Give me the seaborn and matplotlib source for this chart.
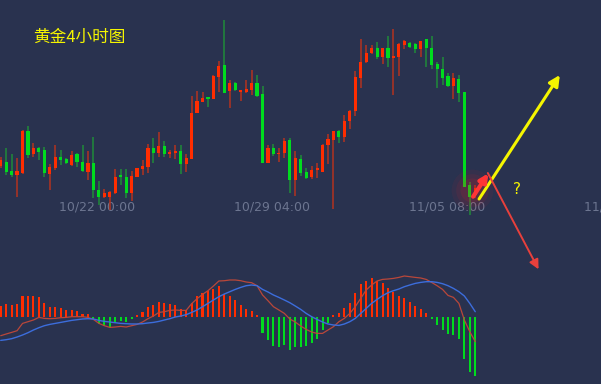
import numpy as np
import pandas as pd
import matplotlib
matplotlib.use("Agg")
import matplotlib.pyplot as plt
import seaborn as sns

# --- DATA (4h gold candles, relative price points) ---
opens = [134, 138, 129, 125, 127, 169, 146, 152, 150, 126,
         132, 143, 141, 135, 146, 138, 128, 137, 110, 103,
         103, 107, 125, 123, 107, 123, 131, 133, 152, 147,
         154, 146, 147, 149, 136, 141, 187, 198, 203, 201,
         223, 235, 209, 217, 208, 208, 210, 217, 206, 137,
         152, 146, 147, 160, 120, 141, 128, 123, 130, 128,
         155, 160, 169, 163, 179, 189, 222, 238, 247, 252,
         243, 252, 242, 243, 255, 257, 256, 251, 261, 252,
         236, 231, 224, 214, 221, 208, 115, 105]
highs = [143, 152, 146, 142, 170, 174, 157, 153, 153, 136,
         155, 150, 142, 149, 147, 155, 149, 163, 119, 111,
         109, 131, 131, 131, 129, 132, 140, 156, 162, 168,
         159, 150, 155, 155, 146, 204, 209, 208, 203, 225,
         239, 280, 220, 218, 210, 220, 230, 225, 214, 155,
         156, 152, 162, 162, 149, 145, 132, 134, 137, 156,
         166, 169, 170, 185, 190, 229, 261, 255, 255, 258,
         252, 264, 271, 257, 260, 258, 257, 259, 261, 264,
         238, 243, 227, 227, 225, 208, 118, 115]
lows = [132, 125, 123, 103, 126, 142, 143, 140, 123, 110,
        130, 135, 136, 134, 133, 128, 120, 102, 95, 102,
        90, 106, 115, 102, 99, 123, 125, 127, 137, 143,
        143, 142, 141, 126, 128, 141, 187, 198, 193, 201,
        208, 207, 192, 209, 199, 207, 205, 203, 137, 137,
        144, 138, 142, 107, 104, 124, 121, 121, 122, 128,
        136, 91, 157, 158, 171, 184, 212, 237, 246, 241,
        236, 233, 205, 224, 251, 252, 247, 243, 233, 231,
        212, 215, 213, 201, 198, 113, 85, 102]
closes = [140, 128, 125, 129, 169, 145, 152, 148, 127, 133,
          143, 140, 137, 145, 138, 129, 137, 110, 103, 107,
          108, 123, 123, 107, 124, 132, 134, 152, 147, 154,
          146, 148, 149, 136, 142, 187, 199, 202, 201, 224,
          234, 207, 217, 210, 210, 211, 217, 204, 137, 152,
          146, 147, 159, 120, 142, 127, 122, 130, 132, 155,
          161, 169, 163, 179, 189, 223, 238, 247, 252, 243,
          252, 242, 244, 256, 259, 253, 251, 259, 252, 235,
          231, 222, 214, 222, 207, 113, 103, 112]

# MACD panel
macd_hist = [10.7, 13, 11.7, 13, 20.7, 20.7, 20.7, 19.3, 13.7, 9.7,
             9.7, 8.7, 6.7, 6.7, 5.7, 3, 3, -2, -7.3, -9,
             -10.3, -6.7, -4.7, -5.3, -2, 1.7, 4.7, 9.7, 11.7, 14.7,
             13.7, 13, 11.7, 7.7, 6.7, 13.7, 21, 23.7, 25.3, 27.7,
             31, 22.3, 21, 17, 11.7, 7.7, 5.7, 1.7, -16, -23.3,
             -29, -30, -28.3, -33.3, -30, -30, -29, -26, -22.3, -13.3,
             -6.7, 1.7, 3.3, 8.3, 14, 23.3, 32.7, 35.7, 38.3, 35.7,
             33.7, 28.7, 24.3, 20.7, 18.7, 14.7, 10.7, 7.3, 3.7, -2.3,
             -8.3, -13.3, -17.3, -18.3, -22.3, -42.3, -55, -59]
dif = [-19, -17.3, -15.7, -14, -6.7, -5, -3.3, -0.7, -1.7, -2,
       -1.7, -1, -0.7, 0, 0, 0, -0.7, -2.7, -6.7, -9,
       -10.7, -10.3, -9.7, -10.3, -9, -7.7, -5.3, -2, 0.7, 4.3,
       5, 6.3, 6.7, 6.3, 6.3, 13, 18, 22.3, 26, 30.7,
       35.7, 36, 36.7, 36.7, 36, 34.7, 34, 31, 21.7, 16,
       10, 6.7, 3.3, -2.3, -5.3, -9.3, -12.7, -15.3, -16.7, -16.7,
       -13.3, -10, -5, -1.7, 3.3, 10, 18.3, 26.7, 31.7, 35.7,
       37.3, 37.7, 38.3, 39.3, 40.7, 40, 39.3, 38.7, 37.3, 34.3,
       31, 27.3, 21.3, 19.3, 13.3, -3.3, -15, -25]
dea = [-23.7, -23, -22, -20.3, -18.3, -16, -13.3, -11, -9, -7.7,
       -6.7, -5.7, -4.7, -3.7, -3, -2.3, -2, -2.3, -3.7, -4.7,
       -5.3, -6, -6.7, -7, -7.3, -7.3, -7, -6.3, -5.7, -4.7,
       -3.3, -2, -0.3, 0.7, 2, 4.3, 6.7, 10, 13.3, 16.7,
       20, 22.7, 25, 27.3, 29.3, 31, 31.7, 31, 27.3, 24.7,
       21.7, 19.3, 16.7, 14, 10.7, 7.3, 3.3, 0, -2.7, -5.3,
       -7.3, -8.3, -8.7, -7.3, -5, -1.7, 3.3, 8.3, 13.3, 17.3,
       21, 24, 26, 27.7, 30, 31.7, 33.3, 34.3, 35, 35,
       34.3, 33, 31, 28.3, 25, 20.7, 13.3, 5]

date_labels = ["10/22 00:00", "10/29 04:00", "11/05 08:00", "11/12 12:00"]
title = "黄金4小时图"

# --- STYLE ---
BG = "#29324f"
UP = "#ff2d00"
DOWN = "#00dc1e"
UP_WICK = "#b3321f"
DOWN_WICK = "#1f8c3a"

sns.set_theme(style="dark", rc={"axes.facecolor": BG, "figure.facecolor": BG})
plt.rcParams['font.family'] = ['DejaVu Sans']

df = pd.DataFrame({"open": opens, "high": highs, "low": lows, "close": closes,
                   "hist": macd_hist, "dif": dif, "dea": dea})
df["idx"] = np.arange(len(df))
df["up"] = df["close"] >= df["open"]
df["hist_dir"] = np.where(df["hist"] >= 0, "up", "down")

fig = plt.figure(figsize=(6.01, 3.84), dpi=100)
ax = fig.add_axes([0, 0.375, 1, 0.625])
ax2 = fig.add_axes([0, 0, 1, 0.375])
ax2.set_facecolor("none")
XLIM = (-0.13, 110.05)

# candles
wick_cols = np.where(df["up"], UP_WICK, DOWN_WICK)
body_cols = np.where(df["up"], UP, DOWN)
ax.vlines(df["idx"], df["low"], df["high"], colors=wick_cols, lw=1.1, zorder=2)
body_lo = np.minimum(df["open"], df["close"])
body_h = np.maximum(np.abs(df["close"] - df["open"]), 1.2)
ax.bar(df["idx"], body_h, bottom=body_lo, width=0.58, color=body_cols, lw=0, zorder=3)

# glow around latest candle
for s, a in [(900, 0.06), (550, 0.08), (300, 0.1)]:
    ax.scatter([86.4], [110], s=s, color="#ff2020", alpha=a, lw=0, zorder=4)

# date labels
for pos, lab in zip([17.65, 49.7, 81.8, 113.9], date_labels):
    ax.text(pos, 93, lab, ha="center", va="center", color="#6c7590",
            fontsize=9, zorder=1, clip_on=False)

# annotation arrows
ax.annotate("", xy=(102.5, 225), xytext=(87.7, 101), annotation_clip=False,
            arrowprops=dict(arrowstyle="-|>", color="#f5f500", lw=2.2,
                            mutation_scale=16, shrinkA=0, shrinkB=0), zorder=6)
ax.annotate("", xy=(98.6, 30.7), xytext=(89.3, 127), annotation_clip=False,
            arrowprops=dict(arrowstyle="-|>", color="#e8403c", lw=1.4,
                            mutation_scale=14, shrinkA=0, shrinkB=0), zorder=6)
ax.annotate("", xy=(89.4, 126.7), xytext=(86.6, 103.3), annotation_clip=False,
            arrowprops=dict(arrowstyle="-|>", color="#ff3535", lw=3,
                            mutation_scale=12, shrinkA=0, shrinkB=0), zorder=6)
ax.text(94.6, 110, "?", color="#f5f500", fontsize=11, ha="center", va="center")

ax.set_xlim(*XLIM)
ax.set_ylim(60, 300)
ax.axis("off")

# MACD
sns.barplot(data=df, x="idx", y="hist", hue="hist_dir", palette={"up": UP, "down": DOWN},
            native_scale=True, width=0.38, dodge=False, legend=False, errorbar=None,
            saturation=1, linewidth=0, ax=ax2)
sns.lineplot(data=df, x="idx", y="dif", color="#b9473a", lw=0.9, ax=ax2)
sns.lineplot(data=df, x="idx", y="dea", color="#3c6ddc", lw=1.0, ax=ax2)
ax2.set_xlim(*XLIM)
ax2.set_ylim(-67.3, 76.7)
ax2.axis("off")

fig.text(33 / 601, 1 - 37.5 / 384, title, color="#f5f500", fontsize=12,
         ha="left", va="center", family=["Noto Sans CJK SC", "DejaVu Sans"])

fig.savefig("out.png", dpi=100, facecolor=BG)
